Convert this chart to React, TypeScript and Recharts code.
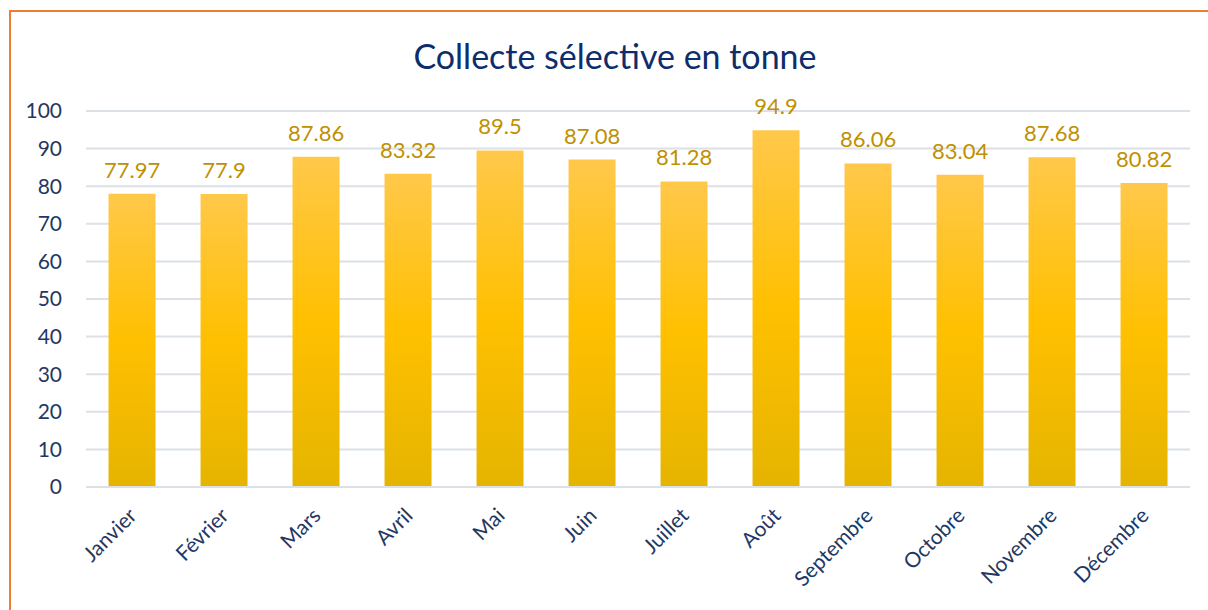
import React from 'react'
import { BarChart, Bar, XAxis, YAxis, CartesianGrid, LabelList } from 'recharts'

const months = ['Janvier', 'Février', 'Mars', 'Avril', 'Mai', 'Juin', 'Juillet', 'Août', 'Septembre', 'Octobre', 'Novembre', 'Décembre']
const tonnes = [77.97, 77.9, 87.86, 83.32, 89.5, 87.08, 81.28, 94.9, 86.06, 83.04, 87.68, 80.82]
const yTicks = [0, 10, 20, 30, 40, 50, 60, 70, 80, 90, 100]

const data = months.map((m, i) => ({ month: m, value: tonnes[i] }))

const navy = '#1F3864'
const font = 'Lato, "Open Sans", sans-serif'

function MonthTick(props: any) {
  const { x, y, payload } = props
  return (
    <g transform={`translate(${x + 6},${y + 22})`}>
      <text transform="rotate(-45)" textAnchor="end" fill={navy} fontSize={21} fontFamily={font}>
        {payload.value}
      </text>
    </g>
  )
}

export default function App() {
  return (
    <div style={{ position: 'absolute', left: 0, top: 0, width: 1208, height: 610, overflow: 'hidden', background: '#fff' }}>
      <div style={{ position: 'absolute', left: 9, top: 10, width: 1300, height: 700, border: '2px solid #ED7D31' }} />
      <div style={{ position: 'absolute', left: 0, top: 35, width: 1230, textAlign: 'center', fontFamily: font, fontSize: 34, color: '#0E2D6B' }}>
        Collecte sélective en tonne
      </div>
      <div style={{ position: 'absolute', left: 0, top: 0 }}>
        <BarChart width={1208} height={610} data={data} margin={{ top: 111, right: 18, bottom: 0, left: 0 }} barCategoryGap="24.5%">
          <defs>
            <linearGradient id="gold" x1="0" y1="0" x2="0" y2="1">
              <stop offset="0%" stopColor="#FFC84A" />
              <stop offset="50%" stopColor="#FFC000" />
              <stop offset="100%" stopColor="#E5B400" />
            </linearGradient>
          </defs>
          <CartesianGrid vertical={false} stroke="#DCE1E8" strokeWidth={2} />
          <XAxis dataKey="month" height={123} interval={0} tickLine={false} axisLine={{ stroke: '#DCE1E8', strokeWidth: 2 }} tick={<MonthTick />} />
          <YAxis width={86} domain={[0, 100]} ticks={yTicks} tickLine={false} axisLine={false} tickSize={0} tickMargin={24}
            tick={{ fill: navy, fontSize: 21, fontFamily: font }} />
          <Bar dataKey="value" fill="url(#gold)" isAnimationActive={false}>
            <LabelList dataKey="value" position="top" offset={16} fill="#BF9000" fontSize={22} fontFamily={font} />
          </Bar>
        </BarChart>
      </div>
    </div>
  )
}
